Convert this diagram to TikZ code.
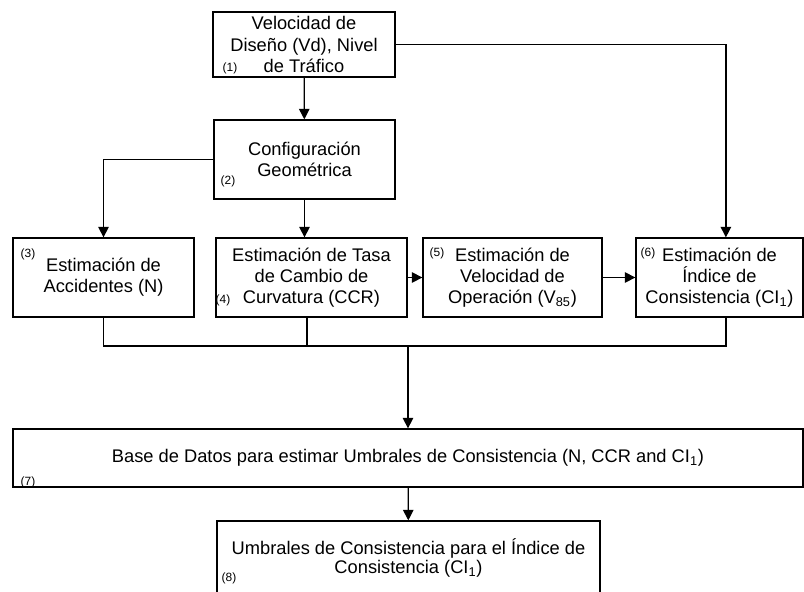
\documentclass[tikz,border=0pt]{standalone}
\usepackage{fontspec}
\setmainfont{Liberation Sans}
\usepackage{tikz}
\usetikzlibrary{arrows.meta}

\begin{document}
\begin{tikzpicture}[x=0.025cm,y=-0.025cm,
        box/.style={draw=black,line width=0.9pt,inner sep=0pt,align=center,
            font=\fontsize{13}{15}\selectfont},
        lbl/.style={inner sep=0pt,font=\fontsize{8.5}{10}\selectfont},
        arr/.style={-{Triangle[width=7.5pt,length=7.5pt]}},
        line width=0.9pt]
        \useasboundingbox (0,0) rectangle (804,592);
        % boxes
        \node[box,minimum width=4.55cm,minimum height=1.625cm] (b1) at (304,44.5)
            {Velocidad de\\Diseño (Vd), Nivel\\de Tráfico};
        \node[box,minimum width=4.525cm,minimum height=1.975cm] (b2) at (304.5,159.5)
            {Configuración\\Geométrica};
        \node[box,minimum width=4.525cm,minimum height=1.975cm] (b3) at (103.5,277.5)
            {Estimación de\\Accidentes (N)};
        \node[box,minimum width=4.775cm,minimum height=1.975cm] (b4) at (311.5,277.5)
            {Estimación de Tasa\\de Cambio de\\Curvatura (CCR)};
        \node[box,minimum width=4.475cm,minimum height=1.975cm] (b5) at (512.5,277.5)
            {Estimación de\\Velocidad de\\Operación (V\textsubscript{85})};
        \node[box,minimum width=4.175cm,minimum height=1.975cm] (b6) at (719.5,277.5)
            {Estimación de\\Índice de\\Consistencia (CI\textsubscript{1})};
        \node[box,minimum width=19.75cm,minimum height=1.45cm] (b7) at (408,458)
            {Base de Datos para estimar Umbrales de Consistencia (N, CCR and CI\textsubscript{1})};
        \node[box,minimum width=9.575cm,minimum height=1.85cm,
            font=\fontsize{13}{13.8}\selectfont] (b8) at (408.5,558)
            {Umbrales de Consistencia para el Índice de\\Consistencia (CI\textsubscript{1})};
        % numbers
        \node[lbl] (l1) at (230,68) {(1)};
        \node[lbl] (l2) at (228,181) {(2)};
        \node[lbl] (l3) at (28,254) {(3)};
        \node[lbl] (l4) at (223,300) {(4)};
        \node[lbl] (l5) at (437,253) {(5)};
        \node[lbl] (l6) at (648,253) {(6)};
        \node[lbl] (l7) at (28,482) {(7)};
        \node[lbl] (l8) at (229,578) {(8)};
        % connectors
        \coordinate (m) at (408,346);
        \draw [arr] (b1) -- (b2);
        \draw [arr] (b1.east) -| ([xshift=0.16cm]b6.north);
        \draw [arr] (b2.west) -| (b3.north);
        \draw [arr] (b2.south) -- (b2.south |- b4.north);
        \draw [arr] (b4) -- (b5);
        \draw [arr] (b5) -- (b6);
        \draw (b3.south) |- (m);
        \draw ([xshift=0.16cm]b6.south) |- (m);
        \draw ([xshift=-0.11cm]b4.south) -- ([xshift=-0.11cm]b4.south |- m);
        \draw [arr] (m) -- (b7);
        \draw [arr] (b7) -- (b8);
    \end{tikzpicture}
\end{document}
